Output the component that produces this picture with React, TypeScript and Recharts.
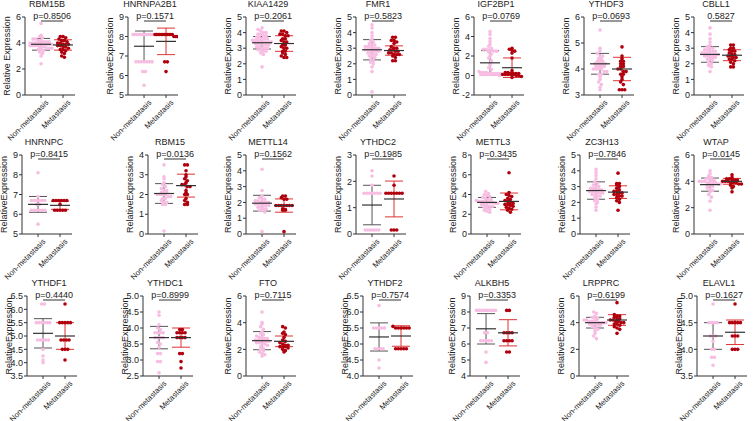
import React from "react";
import { ScatterChart, Scatter, XAxis, YAxis, ErrorBar, ReferenceLine } from "recharts";

const genes = [
  "RBM15B", "HNRNPA2B1", "KIAA1429", "FMR1", "IGF2BP1", "YTHDF3", "CBLL1",
  "HNRNPC", "RBM15", "METTL14", "YTHDC2", "METTL3", "ZC3H13", "WTAP",
  "YTHDF1", "YTHDC1", "FTO", "YTHDF2", "ALKBH5", "LRPPRC", "ELAVL1",
];
const pLabels = [
  "p=0.8506", "p=0.1571", "p=0.2061", "p=0.5823", "p=0.0769", "p=0.0693", "0.5827",
  "p=0.8415", "p=0.0136", "p=0.1562", "p=0.1985", "p=0.3435", "p=0.7846", "p=0.0145",
  "p=0.4440", "p=0.8999", "p=0.7115", "p=0.7574", "p=0.3353", "p=0.6199", "p=0.1627",
];
const groups = ["Non-metastasis", "Metastasis"];

// expression values (Non-metastasis / Metastasis)
const RBM15B_NON = [5.5, 4.6, 4.5, 4.4, 4.3, 4.3, 4.2, 4.2, 4.1, 4.1, 4.1, 4.0, 4.0, 4.0, 4.0, 4.0, 3.9, 3.9, 3.9, 3.9, 3.9, 3.8, 3.8, 3.8, 3.8, 3.7, 3.7, 3.7, 3.6, 3.6, 3.6, 3.5, 3.5, 3.4, 3.3, 3.2, 3.0, 2.4];
const RBM15B_MET = [4.5, 4.5, 4.4, 4.3, 4.2, 4.2, 4.1, 4.0, 4.0, 3.9, 3.9, 3.9, 3.8, 3.8, 3.7, 3.7, 3.6, 3.5, 3.5, 3.4, 3.3, 3.2, 3.0, 2.9];
const HNRNPA2B1_NON = [8.1, 8.1, 8.1, 8.1, 8.1, 8.1, 8.1, 8.1, 8.1, 8.1, 8.1, 8.1, 8.1, 8.1, 8.1, 8.1, 6.7, 6.7, 6.7, 6.7, 6.7, 6.7, 6.7, 6.2, 6.2, 5.5];
const HNRNPA2B1_MET = [8.1, 8.1, 8.1, 8.1, 8.1, 8.1, 8.1, 8.1, 8.1, 8.1, 8.1, 8.1, 8.0, 8.0, 8.0, 6.7, 6.7, 6.2];
const KIAA1429_NON = [4.3, 4.2, 4.1, 4.0, 4.0, 3.9, 3.9, 3.8, 3.8, 3.7, 3.7, 3.6, 3.6, 3.6, 3.5, 3.5, 3.5, 3.5, 3.4, 3.4, 3.4, 3.4, 3.3, 3.3, 3.3, 3.2, 3.2, 3.2, 3.1, 3.1, 3.0, 3.0, 3.0, 2.9, 2.9, 2.8, 2.8, 2.7, 2.6, 1.8];
const KIAA1429_MET = [4.1, 4.1, 4.0, 3.9, 3.9, 3.8, 3.8, 3.6, 3.6, 3.5, 3.4, 3.4, 3.2, 3.2, 3.1, 3.0, 3.0, 2.8, 2.8, 2.7, 2.6, 2.5, 2.4, 2.4];
const FMR1_NON = [4.5, 4.3, 4.0, 3.8, 3.6, 3.5, 3.4, 3.3, 3.2, 3.2, 3.1, 3.1, 3.1, 3.0, 3.0, 3.0, 2.9, 2.9, 2.9, 2.8, 2.8, 2.8, 2.7, 2.7, 2.6, 2.6, 2.5, 2.5, 2.4, 2.3, 2.2, 2.1, 2.0, 1.8, 1.5, 0.2];
const FMR1_MET = [3.7, 3.7, 3.5, 3.5, 3.4, 3.3, 3.1, 3.0, 3.0, 2.9, 2.9, 2.8, 2.8, 2.7, 2.7, 2.6, 2.6, 2.6, 2.5, 2.4, 2.2, 2.2];
const IGF2BP1_NON = [4.5, 4.2, 3.8, 3.5, 3.2, 3.0, 2.8, 2.7, 2.7, 2.6, 2.6, 2.5, 2.5, 2.4, 2.2, 2.0, 1.8, 1.5, 1.2, 1.0, 0.8, 0.6, 0.4, 0.3, 0.3, 0.3, 0.2, 0.2, 0.2, 0.2, 0.2, 0.2, 0.1, 0.1, 0.1, 0.1, 0.1, 0.1, 0.1, 0.0];
const IGF2BP1_MET = [2.8, 2.7, 2.6, 2.5, 2.3, 1.8, 0.5, 0.3, 0.3, 0.2, 0.2, 0.2, 0.2, 0.1, 0.1, 0.1, 0.1, 0.1, 0.0, 0.0, -0.1, -0.2];
const YTHDF3_NON = [5.5, 4.8, 4.7, 4.6, 4.5, 4.5, 4.4, 4.4, 4.3, 4.3, 4.3, 4.2, 4.2, 4.2, 4.2, 4.2, 4.1, 4.1, 4.1, 4.1, 4.0, 4.0, 4.0, 4.0, 3.9, 3.9, 3.8, 3.8, 3.7, 3.6, 3.5, 3.4, 3.3, 3.2];
const YTHDF3_MET = [4.85, 4.5, 4.4, 4.3, 4.3, 4.2, 4.2, 4.1, 4.1, 4.0, 4.0, 3.9, 3.9, 3.8, 3.8, 3.7, 3.6, 3.5, 3.4, 3.2, 3.2, 3.2];
const CBLL1_NON = [4.3, 3.9, 3.6, 3.4, 3.2, 3.1, 3.0, 3.0, 2.9, 2.9, 2.8, 2.8, 2.8, 2.7, 2.7, 2.7, 2.6, 2.6, 2.6, 2.6, 2.5, 2.5, 2.5, 2.4, 2.4, 2.3, 2.3, 2.2, 2.1, 2.0, 1.9, 1.8, 1.5];
const CBLL1_MET = [3.2, 3.2, 3.0, 3.0, 2.9, 2.8, 2.8, 2.7, 2.6, 2.6, 2.5, 2.5, 2.4, 2.4, 2.3, 2.3, 2.2, 2.1, 2.0, 1.8, 1.8];
const HNRNPC_NON = [8.1, 6.9, 6.7, 6.7, 6.7, 6.7, 6.7, 6.7, 6.5, 6.5, 6.2, 6.2, 6.2, 6.2, 6.2, 6.2, 5.5];
const HNRNPC_MET = [6.7, 6.7, 6.7, 6.7, 6.7, 6.7, 6.5, 6.2, 6.2, 6.2, 6.2, 6.2];
const RBM15_NON = [3.5, 2.9, 2.8, 2.6, 2.5, 2.4, 2.3, 2.2, 2.2, 2.1, 2.1, 2.1, 2.0, 2.0, 2.0, 2.0, 1.9, 1.9, 1.8, 1.8, 1.7, 1.6, 1.6, 1.5, 1.5, 0.15];
const RBM15_MET = [3.5, 3.5, 3.2, 3.0, 2.9, 2.8, 2.7, 2.6, 2.5, 2.5, 2.4, 2.4, 2.2, 2.1, 2.0, 2.0, 1.8, 1.7, 1.6, 1.5, 1.5];
const METTL14_NON = [4.1, 2.75, 2.4, 2.3, 2.2, 2.2, 2.1, 2.1, 2.0, 2.0, 2.0, 2.0, 1.9, 1.9, 1.9, 1.8, 1.8, 1.8, 1.7, 1.7, 1.6, 1.6, 1.5, 1.5, 1.4, 0.15];
const METTL14_MET = [2.4, 2.4, 2.3, 2.2, 2.2, 1.8, 1.8, 1.8, 1.8, 1.8, 1.8, 1.8, 1.6, 1.55, 1.5, 1.5, 0.15];
const YTHDC2_NON = [2.4, 2.2, 1.85, 1.55, 1.55, 1.55, 1.55, 1.55, 1.55, 1.55, 0.15, 0.15, 0.15, 0.15, 0.15, 0.15];
const YTHDC2_MET = [2.2, 1.85, 1.55, 1.55, 1.55, 1.55, 1.55, 1.55, 1.55, 0.15, 0.15, 0.15];
const METTL3_NON = [4.3, 4.1, 4.0, 3.9, 3.8, 3.7, 3.6, 3.5, 3.5, 3.4, 3.3, 3.3, 3.3, 3.2, 3.2, 3.2, 3.1, 3.1, 3.0, 3.0, 2.9, 2.8, 2.8, 2.7, 2.6, 2.5, 2.4, 2.3, 2.2];
const METTL3_MET = [6.2, 4.2, 4.0, 3.9, 3.8, 3.6, 3.5, 3.4, 3.3, 3.2, 3.1, 3.0, 3.0, 2.9, 2.8, 2.7, 2.6, 2.5, 2.4, 2.2];
const ZC3H13_NON = [4.1, 3.9, 3.7, 3.5, 3.3, 3.2, 3.1, 3.0, 3.0, 2.9, 2.9, 2.8, 2.8, 2.8, 2.7, 2.7, 2.7, 2.6, 2.6, 2.6, 2.5, 2.5, 2.4, 2.4, 2.3, 2.2, 2.1, 2.0, 1.9, 1.7, 1.5];
const ZC3H13_MET = [3.85, 3.2, 3.2, 3.1, 3.0, 2.9, 2.8, 2.7, 2.7, 2.6, 2.6, 2.5, 2.5, 2.4, 2.4, 2.3, 2.2, 2.1, 2.0, 1.5];
const WTAP_NON = [4.8, 4.6, 4.4, 4.3, 4.2, 4.2, 4.1, 4.1, 4.0, 4.0, 4.0, 3.9, 3.9, 3.9, 3.9, 3.8, 3.8, 3.7, 3.7, 3.6, 3.5, 3.4, 3.3, 3.2, 3.0, 2.8, 2.5, 1.8];
const WTAP_MET = [4.5, 4.3, 4.2, 4.2, 4.1, 4.1, 4.1, 4.0, 4.0, 4.0, 3.9, 3.9, 3.9, 3.8, 3.8, 3.7, 3.6, 3.5, 3.2];
const YTHDF1_NON = [6.2, 6.2, 5.5, 5.5, 5.5, 5.5, 5.5, 5.5, 4.85, 4.85, 4.85, 4.85, 4.85, 4.5, 4.25, 4.1, 4.0];
const YTHDF1_MET = [6.2, 5.5, 5.5, 5.5, 5.5, 5.5, 4.85, 4.85, 4.85, 4.85, 4.5, 4.5, 4.5, 4.1];
const YTHDC1_NON = [4.5, 4.4, 4.1, 4.0, 3.95, 3.85, 3.85, 3.85, 3.85, 3.7, 3.7, 3.7, 3.7, 3.55, 3.5, 3.4, 3.2, 3.2, 2.95, 2.95, 2.6];
const YTHDC1_MET = [3.95, 3.95, 3.85, 3.85, 3.85, 3.85, 3.7, 3.7, 3.7, 3.7, 3.2, 3.2, 2.95, 2.75];
const FTO_NON = [4.8, 4.0, 3.9, 3.7, 3.5, 3.3, 3.2, 3.1, 3.0, 2.9, 2.9, 2.8, 2.8, 2.7, 2.7, 2.7, 2.6, 2.6, 2.6, 2.5, 2.5, 2.4, 2.4, 2.3, 2.2, 2.1, 2.0, 1.9, 1.8, 1.7, 1.6, 1.5];
const FTO_MET = [3.7, 3.6, 3.3, 3.2, 3.1, 2.9, 2.7, 2.6, 2.5, 2.4, 2.3, 2.3, 2.2, 2.2, 2.2, 2.1, 2.0, 1.9, 1.8];
const YTHDF2_NON = [6.2, 5.5, 5.5, 5.5, 5.5, 5.5, 4.85, 4.85, 4.85, 4.85, 4.5, 4.25];
const YTHDF2_MET = [5.55, 5.5, 5.5, 5.5, 5.5, 5.5, 5.5, 4.85, 4.85, 4.85, 4.85, 4.85];
const ALKBH5_NON = [8.1, 8.1, 8.1, 8.1, 8.1, 8.1, 8.1, 8.1, 6.7, 6.7, 6.2, 6.2, 6.2, 6.2, 6.2, 5.5, 4.85];
const ALKBH5_MET = [8.1, 8.1, 6.7, 6.7, 6.7, 6.7, 6.2, 6.2, 6.2, 6.2, 5.5, 5.5];
const LRPPRC_NON = [4.8, 4.7, 4.5, 4.4, 4.3, 4.3, 4.2, 4.2, 4.1, 4.1, 4.1, 4.1, 4.0, 4.0, 4.0, 4.0, 3.9, 3.9, 3.9, 3.8, 3.8, 3.7, 3.6, 3.5, 3.4, 3.2, 3.0, 2.8];
const LRPPRC_MET = [5.5, 4.6, 4.5, 4.5, 4.4, 4.3, 4.3, 4.2, 4.2, 4.1, 4.1, 4.0, 4.0, 3.9, 3.9, 3.8, 3.7, 3.6, 3.5, 3.2];
const ELAVL1_NON = [4.85, 4.5, 4.5, 4.5, 4.5, 4.25, 4.25, 4.25, 4.15, 4.0, 4.0, 3.85, 3.85, 3.7];
const ELAVL1_MET = [4.85, 4.5, 4.5, 4.5, 4.5, 4.5, 4.25, 4.25, 4.25, 4.0, 4.0, 4.0];

const nonValues = [
  RBM15B_NON, HNRNPA2B1_NON, KIAA1429_NON, FMR1_NON, IGF2BP1_NON, YTHDF3_NON, CBLL1_NON,
  HNRNPC_NON, RBM15_NON, METTL14_NON, YTHDC2_NON, METTL3_NON, ZC3H13_NON, WTAP_NON,
  YTHDF1_NON, YTHDC1_NON, FTO_NON, YTHDF2_NON, ALKBH5_NON, LRPPRC_NON, ELAVL1_NON,
];
const metValues = [
  RBM15B_MET, HNRNPA2B1_MET, KIAA1429_MET, FMR1_MET, IGF2BP1_MET, YTHDF3_MET, CBLL1_MET,
  HNRNPC_MET, RBM15_MET, METTL14_MET, YTHDC2_MET, METTL3_MET, ZC3H13_MET, WTAP_MET,
  YTHDF1_MET, YTHDC1_MET, FTO_MET, YTHDF2_MET, ALKBH5_MET, LRPPRC_MET, ELAVL1_MET,
];

// mean and SD as drawn
const meanNon = [3.9, 7.5, 3.35, 2.9, 1.3, 4.2, 2.6, 6.5, 2.05, 1.95, 1.1, 3.2, 2.75, 3.75, 5.1, 3.7, 2.65, 5.22, 6.95, 4.0, 4.25];
const sdNon = [0.45, 0.78, 0.4, 0.65, 1.25, 0.4, 0.5, 0.4, 0.5, 0.5, 0.75, 0.5, 0.55, 0.5, 0.55, 0.35, 0.68, 0.44, 0.95, 0.4, 0.25];
const meanMet = [3.85, 7.75, 3.3, 2.85, 0.8, 4.0, 2.55, 6.45, 2.45, 1.8, 1.33, 3.3, 2.65, 4.0, 5.0, 3.7, 2.6, 5.25, 6.7, 4.2, 4.32];
const sdMet = [0.4, 0.68, 0.5, 0.3, 1.0, 0.45, 0.35, 0.2, 0.58, 0.42, 0.68, 0.85, 0.4, 0.22, 0.5, 0.3, 0.4, 0.32, 0.82, 0.4, 0.23];

const yTicks = [
  [0, 2, 4, 6], [5, 6, 7, 8, 9], [0, 1, 2, 3, 4, 5], [0, 1, 2, 3, 4, 5], [-2, 0, 2, 4, 6], [3, 4, 5, 6], [0, 1, 2, 3, 4, 5],
  [5, 6, 7, 8, 9], [0, 1, 2, 3, 4], [0, 1, 2, 3, 4, 5], [0, 1, 2, 3], [0, 2, 4, 6, 8], [0, 1, 2, 3, 4, 5], [0, 2, 4, 6],
  [3.5, 4, 4.5, 5, 5.5, 6, 6.5], [2.5, 3, 3.5, 4, 4.5, 5], [0, 2, 4, 6], [4, 4.5, 5, 5.5, 6, 6.5], [4, 5, 6, 7, 8, 9], [0, 2, 4, 6], [3.5, 4, 4.5, 5],
];
const decimalTicks = [14, 15, 17, 20];

// layout
const axisX = [
  [25, 128, 246, 356, 474, 584, 694],
  [22, 148, 246, 356, 471, 580, 694],
  [27, 143, 246, 363, 470, 579, 697],
];
const plotTop = [17, 155, 296];
const plotH = [78, 79, 80];
const PAD_L = 45;
const Y_W = 30;
const PLOT_W = 50;
const M_TOP = 24;
const X_H = 60;
const X_DOMAIN = [0.27, 2.545];

const PINK = "#f7bde2";
const RED = "#b0000d";
const FONT = "'Liberation Sans', Arial, sans-serif";

function swarm(values: number[], center: number, yRange: number, h: number) {
  const pxPerUnit = PLOT_W / (X_DOMAIN[1] - X_DOMAIN[0]);
  const binH = (3.2 * yRange) / h;
  const bins = new Map<number, number[]>();
  values.forEach((v) => {
    const k = Math.round(v / binH);
    if (!bins.has(k)) bins.set(k, []);
    bins.get(k)!.push(v);
  });
  const pts: { x: number; y: number }[] = [];
  bins.forEach((list) => {
    const n = list.length;
    let step = 2.7;
    if (n > 1) step = Math.min(step, 22 / (n - 1));
    list.forEach((v, j) => {
      pts.push({ x: center + ((j - (n - 1) / 2) * step) / pxPerUnit, y: v });
    });
  });
  return pts;
}

const Dot = (color: string) => (p: any) => <circle cx={p.cx} cy={p.cy} r={1.8} fill={color} />;
const MeanLine = (color: string) => (p: any) => (
  <line x1={p.cx - 10} x2={p.cx + 10} y1={p.cy} y2={p.cy} stroke={color} strokeWidth={1.2} />
);

const XTick = (p: any) => {
  const label = groups[p.payload.value - 1];
  const x = p.x + 8;
  const y = p.y + 3;
  return (
    <text x={x} y={y} transform={`rotate(-45 ${x} ${y})`} textAnchor="end" fontSize={7.8} fill="#222" fontFamily={FONT}>
      {label}
    </text>
  );
};

function Panel({ i }: { i: number }) {
  const row = Math.floor(i / 7);
  const col = i % 7;
  const ax = axisX[row][col];
  const h = plotH[row];
  const ticks = yTicks[i];
  const lo = ticks[0];
  const hi = ticks[ticks.length - 1];
  const non = swarm(nonValues[i], 1, hi - lo, h);
  const met = swarm(metValues[i], 2, hi - lo, h);
  const lineY = hi - (4 / h) * (hi - lo);
  const dec = decimalTicks.includes(i);
  const ylabel = i === 0 ? "Relative Expression" : "RelativeExpression";
  return (
    <div style={{ position: "absolute", left: ax - Y_W - PAD_L, top: plotTop[row] - M_TOP }}>
      <ScatterChart
        width={PAD_L + Y_W + PLOT_W + 10}
        height={M_TOP + h + X_H}
        margin={{ top: M_TOP, right: 10, bottom: 0, left: PAD_L }}
      >
        <XAxis
          type="number" dataKey="x" domain={X_DOMAIN} ticks={[1, 2]} interval={0}
          height={X_H} tickSize={3} tick={<XTick />} stroke="#333" allowDataOverflow
        />
        <YAxis
          type="number" dataKey="y" domain={[lo, hi]} ticks={ticks} interval={0} width={Y_W}
          tickSize={3} tickMargin={1} stroke="#333" allowDataOverflow
          tick={{ fontSize: 9, fill: "#222", fontFamily: FONT }}
          tickFormatter={(v: number) => (dec ? v.toFixed(1) : String(v))}
          label={{
            value: ylabel, angle: -90, position: "insideLeft", offset: 12,
            style: { textAnchor: "middle", fontSize: 9, fill: "#222", fontFamily: FONT },
          }}
        />
        <Scatter data={non} shape={Dot(PINK)} isAnimationActive={false} />
        <Scatter data={met} shape={Dot(RED)} isAnimationActive={false} />
        <Scatter data={[{ x: 1, y: meanNon[i], e: sdNon[i] }]} shape={MeanLine("#333")} isAnimationActive={false}>
          <ErrorBar dataKey="e" direction="y" width={9} stroke="#555" strokeWidth={1} />
        </Scatter>
        <Scatter data={[{ x: 2, y: meanMet[i], e: sdMet[i] }]} shape={MeanLine("#333")} isAnimationActive={false}>
          <ErrorBar dataKey="e" direction="y" width={9} stroke="#d33" strokeWidth={1} />
        </Scatter>
        <ReferenceLine
          segment={[{ x: 1, y: lineY }, { x: 2, y: lineY }]}
          stroke="#333" strokeWidth={1} ifOverflow="visible"
          label={{ value: pLabels[i], position: "top", offset: 2, fontSize: 9, fill: "#222", fontFamily: FONT }}
        />
      </ScatterChart>
      <div
        style={{
          position: "absolute", left: PAD_L + Y_W + 22 - 40, width: 80, top: M_TOP - 18,
          textAlign: "center", fontSize: 9, color: "#222", fontFamily: FONT, lineHeight: "10px",
        }}
      >
        {genes[i]}
      </div>
    </div>
  );
}

export default function App() {
  return (
    <div style={{ position: "absolute", left: 0, top: 0, width: 756, height: 421, background: "#fff", fontFamily: FONT }}>
      {genes.map((g, i) => (
        <Panel key={g} i={i} />
      ))}
    </div>
  );
}
